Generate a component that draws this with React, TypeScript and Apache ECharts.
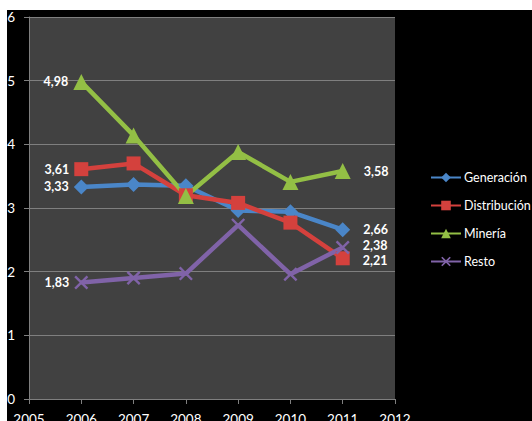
import React, { useEffect, useRef } from "react";
import * as echarts from "echarts";

const years = [2006, 2007, 2008, 2009, 2010, 2011];
const generacion = [3.33, 3.37, 3.35, 2.96, 2.94, 2.66];
const distribucion = [3.61, 3.7, 3.2, 3.08, 2.77, 2.21];
const mineria = [4.98, 4.14, 3.19, 3.88, 3.41, 3.58];
const resto = [1.83, 1.9, 1.97, 2.73, 1.96, 2.38];
const seriesNames = ["Generación", "Distribución", "Minería", "Resto"];

const FONT = "Lato, 'Noto Sans', sans-serif";
const X_SYMBOL =
  "path://M0,1.2 L1.2,0 L5,3.8 L8.8,0 L10,1.2 L6.2,5 L10,8.8 L8.8,10 L5,6.2 L1.2,10 L0,8.8 L3.8,5 Z";

function fmt(v: number) {
  return v.toFixed(2).replace(".", ",");
}

function buildSeries(
  name: string,
  values: number[],
  color: string,
  symbol: string,
  symbolSize: number,
  lastOffset: number[]
) {
  return {
    name,
    type: "line",
    symbol,
    symbolSize,
    lineStyle: { width: 4.5, color },
    itemStyle: { color },
    emphasis: { disabled: true },
    data: values.map((v, i) => {
      const item: any = { value: [years[i], v] };
      if (i === 0) {
        item.label = { show: true, position: "left", distance: 5 };
      } else if (i === values.length - 1) {
        item.label = { show: true, position: "right", distance: 13, offset: lastOffset };
      }
      return item;
    }),
    label: {
      show: false,
      color: "#ffffff",
      fontWeight: "bold",
      fontSize: 12.5,
      fontFamily: FONT,
      formatter: (p: any) => fmt(p.value[1]),
    },
  };
}

export default function App() {
  const ref = useRef<HTMLDivElement>(null);
  useEffect(() => {
    if (!ref.current) return;
    const chart = echarts.init(ref.current, undefined, { renderer: "svg" });
    chart.setOption({
      animation: false,
      backgroundColor: "#000000",
      textStyle: { fontFamily: FONT },
      grid: {
        left: 22,
        top: 7,
        width: 366,
        height: 382,
        show: true,
        containLabel: false,
        outerBoundsMode: "none",
        backgroundColor: "#414141",
        borderWidth: 0,
      },
      xAxis: {
        type: "value",
        min: 2005,
        max: 2012,
        interval: 1,
        axisLine: { show: true, lineStyle: { color: "#7f7f7f", width: 1 } },
        axisTick: { show: true, length: 5, lineStyle: { color: "#7f7f7f" } },
        axisLabel: {
          color: "#ffffff",
          fontSize: 13.5,
          fontFamily: FONT,
          margin: 13,
          formatter: (v: number) => String(v),
        },
        splitLine: { show: false },
      },
      yAxis: {
        type: "value",
        min: 0,
        max: 6,
        interval: 1,
        axisLine: { show: true, lineStyle: { color: "#7f7f7f", width: 1 } },
        axisTick: { show: true, length: 5, lineStyle: { color: "#7f7f7f" } },
        axisLabel: { color: "#ffffff", fontSize: 13.5, fontFamily: FONT, margin: 14 },
        splitLine: { show: true, lineStyle: { color: "#7f7f7f", width: 1 } },
      },
      legend: {
        orient: "vertical",
        left: 423,
        top: 161,
        padding: 0,
        itemWidth: 30,
        itemHeight: 12,
        itemGap: 15,
        data: seriesNames,
        textStyle: { color: "#ffffff", fontSize: 12.5, fontFamily: FONT, padding: [0, 0, 0, -2] },
      },
      series: [
        buildSeries(seriesNames[0], generacion, "#4a86c8", "diamond", 15, [0, 0]),
        buildSeries(seriesNames[1], distribucion, "#d4413d", "rect", 14, [0, 2]),
        buildSeries(seriesNames[2], mineria, "#93bf45", "triangle", 16, [0, 0]),
        buildSeries(seriesNames[3], resto, "#8063a8", X_SYMBOL, 14, [0, -2]),
      ],
    });
    return () => chart.dispose();
  }, []);
  return (
    <div
      ref={ref}
      style={{ position: "fixed", left: 7, top: 10, width: 525, height: 411 }}
    />
  );
}
